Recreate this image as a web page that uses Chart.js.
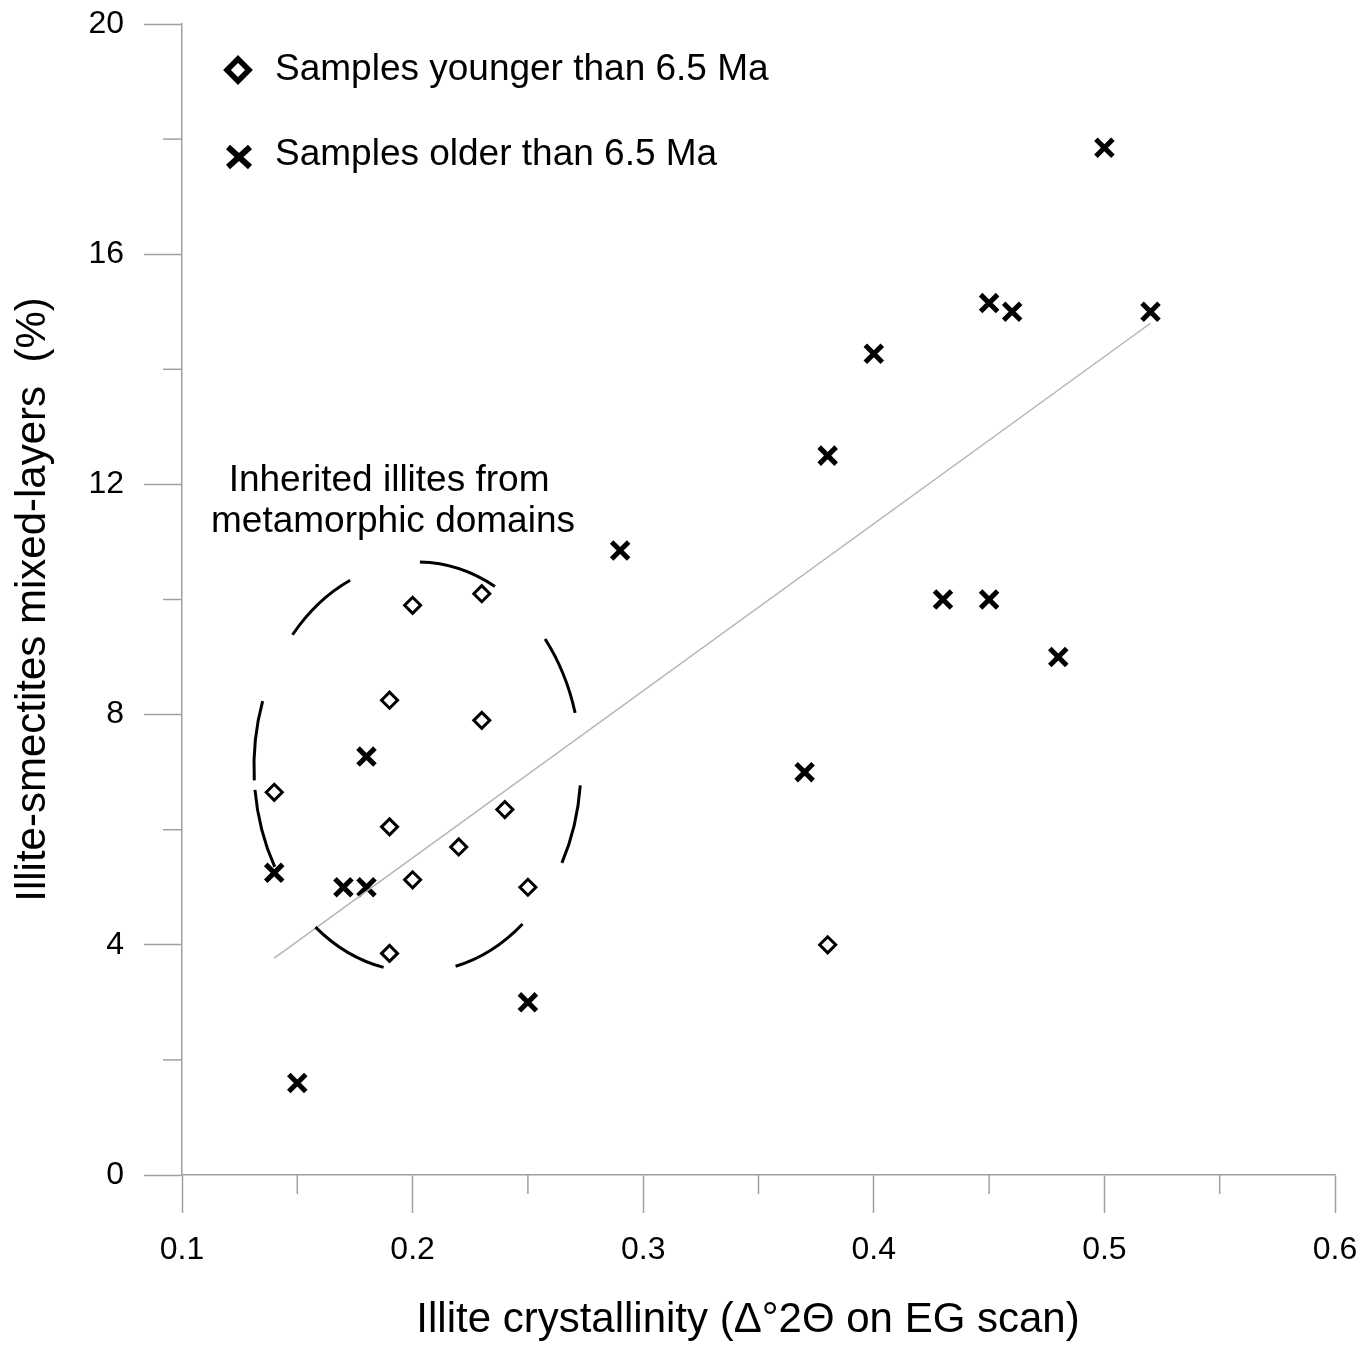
<!DOCTYPE html>
<html>
<head>
<meta charset="utf-8">
<script src="https://cdn.jsdelivr.net/npm/chart.js@4.4.1/dist/chart.umd.min.js"></script>
<style>
    body { margin: 0; background: #fff; }
    canvas { display: block; }
</style>
</head>
<body>
<canvas id="grafico" width="1367" height="1346"></canvas>
<script>
// Amostras mais jovens que 6.5 Ma (losangos)
const xJovens = [0.14, 0.20, 0.23, 0.19, 0.23, 0.24, 0.19, 0.22, 0.20, 0.25, 0.19, 0.38];
const yJovens = [6.65, 9.9, 10.1, 8.25, 7.9, 6.35, 6.05, 5.7, 5.13, 5.0, 3.85, 4.0];

// Amostras mais antigas que 6.5 Ma (cruzes)
const xAntigas = [0.50, 0.45, 0.46, 0.52, 0.40, 0.38, 0.29, 0.43, 0.45, 0.48, 0.37, 0.18, 0.14, 0.17, 0.18, 0.25, 0.15];
const yAntigas = [17.85, 15.15, 15.0, 15.0, 14.27, 12.5, 10.85, 10.0, 10.0, 9.0, 7.0, 7.27, 5.25, 5.0, 5.0, 3.0, 1.6];

// Reta de tendência (extremos)
const xTendencia = [0.14, 0.52];
const yTendencia = [3.77, 14.8];

const legendas = ['Samples younger than 6.5 Ma', 'Samples older than 6.5 Ma'];
const tituloX = 'Illite crystallinity (\u0394\u00b02\u0398 on EG scan)';
const tituloY = 'Illite-smectites mixed-layers  (%)';
const textoElipse = ['Inherited illites from', 'metamorphic domains'];

// Elipse tracejada em unidades dos eixos
const elipse = { cx: 0.2021, cy: 7.09, rx: 0.0709, ry: 3.56 };

const fonte = '"Liberation Sans", Arial, sans-serif';
const corEixo = '#a0a0a0';

const pares = (xs, ys) => xs.map((x, i) => ({ x: x, y: ys[i] }));

const extras = {
    id: 'extras',
    afterDatasetsDraw(chart) {
        const c = chart.ctx;
        const sx = chart.scales.x;
        const sy = chart.scales.y;
        const area = chart.chartArea;

        // marcas menores dos eixos
        c.save();
        c.strokeStyle = corEixo;
        c.lineWidth = 1.5;
        sx.ticks.forEach(t => {
            if (Math.round(t.value * 100) % 10 !== 0) {
                const px = sx.getPixelForValue(t.value);
                c.beginPath();
                c.moveTo(px, area.bottom);
                c.lineTo(px, area.bottom + 19);
                c.stroke();
            }
        });
        sy.ticks.forEach(t => {
            if (Math.round(t.value) % 4 !== 0) {
                const py = sy.getPixelForValue(t.value);
                c.beginPath();
                c.moveTo(area.left, py);
                c.lineTo(area.left - 19, py);
                c.stroke();
            }
        });
        c.restore();

        // elipse tracejada
        const cx = sx.getPixelForValue(elipse.cx);
        const cy = sy.getPixelForValue(elipse.cy);
        const rx = sx.getPixelForValue(elipse.cx + elipse.rx) - cx;
        const ry = cy - sy.getPixelForValue(elipse.cy + elipse.ry);
        c.save();
        c.strokeStyle = '#000';
        c.lineWidth = 3;
        c.setLineDash([80, 73]);
        c.beginPath();
        c.ellipse(cx, cy, rx, ry, 0, 3.03, 3.03 - 2 * Math.PI, true);
        c.stroke();
        c.restore();

        // texto da elipse
        c.save();
        c.fillStyle = '#000';
        c.font = '37px ' + fonte;
        c.textAlign = 'center';
        c.textBaseline = 'middle';
        c.fillText(textoElipse[0], sx.getPixelForValue(0.1898), sy.getPixelForValue(12.07));
        c.fillText(textoElipse[1], sx.getPixelForValue(0.1915), sy.getPixelForValue(11.35));
        c.restore();

        // legenda
        c.save();
        c.strokeStyle = '#000';
        c.fillStyle = '#fff';
        c.lineWidth = 5.5;
        c.lineJoin = 'miter';
        c.beginPath();
        c.moveTo(238, 59); c.lineTo(249, 70); c.lineTo(238, 81); c.lineTo(227, 70);
        c.closePath();
        c.fill();
        c.stroke();
        c.lineWidth = 6;
        c.beginPath();
        c.moveTo(228, 147); c.lineTo(250, 167);
        c.moveTo(250, 147); c.lineTo(228, 167);
        c.stroke();
        c.fillStyle = '#000';
        c.font = '37px ' + fonte;
        c.textBaseline = 'middle';
        c.fillText(legendas[0], 275, 70);
        c.fillText(legendas[1], 275, 155);
        c.restore();
    }
};

const ctx = document.getElementById('grafico').getContext('2d');

const chart = new Chart(ctx, {
    type: 'scatter',
    data: {
        datasets: [
            {
                label: 'Tendência',
                type: 'line',
                data: pares(xTendencia, yTendencia),
                borderColor: '#b4b4b4',
                borderWidth: 1.5,
                pointRadius: 0,
                fill: false
            },
            {
                label: legendas[0],
                data: pares(xJovens, yJovens),
                pointStyle: 'rectRot',
                pointRadius: 8,
                borderWidth: 3,
                borderColor: '#000',
                backgroundColor: '#fff'
            },
            {
                label: legendas[1],
                data: pares(xAntigas, yAntigas),
                pointStyle: 'crossRot',
                pointRadius: 12,
                borderWidth: 5,
                borderColor: '#000',
                backgroundColor: '#000'
            }
        ]
    },
    options: {
        responsive: false,
        animation: false,
        layout: { padding: { top: 24, right: 32, left: 0, bottom: 0 } },
        plugins: {
            legend: { display: false },
            tooltip: { enabled: false }
        },
        scales: {
            x: {
                type: 'linear',
                min: 0.1,
                max: 0.6,
                // altura fixa e sem folga extra para os rótulos das pontas
                afterFit: s => { s.height = 171; s.paddingLeft = 0; s.paddingRight = 0; },
                ticks: {
                    stepSize: 0.05,
                    color: '#000',
                    padding: 18,
                    maxRotation: 0,
                    autoSkip: false,
                    font: { family: fonte, size: 32 },
                    callback: v => (Math.round(v * 100) % 10 === 0 ? v.toFixed(1) : '')
                },
                grid: {
                    drawOnChartArea: false,
                    tickLength: 38,
                    tickWidth: 1.5,
                    tickColor: c => (c.tick && Math.round(c.tick.value * 100) % 10 === 0 ? corEixo : 'rgba(0,0,0,0)')
                },
                border: { color: corEixo, width: 1.5 },
                title: {
                    display: true,
                    text: tituloX + '\u2002',
                    color: '#000',
                    font: { family: fonte, size: 42 },
                    padding: { top: 0, bottom: 0 }
                }
            },
            y: {
                min: 0,
                max: 20,
                afterFit: s => { s.width = 182; s.paddingTop = 0; s.paddingBottom = 0; },
                ticks: {
                    stepSize: 2,
                    color: '#000',
                    padding: 20,
                    autoSkip: false,
                    font: { family: fonte, size: 32 },
                    callback: v => (Math.round(v) % 4 === 0 ? v : '')
                },
                grid: {
                    drawOnChartArea: false,
                    tickLength: 38,
                    tickWidth: 1.5,
                    tickColor: c => (c.tick && Math.round(c.tick.value) % 4 === 0 ? corEixo : 'rgba(0,0,0,0)')
                },
                border: { color: corEixo, width: 1.5 },
                title: {
                    display: true,
                    text: tituloY,
                    color: '#000',
                    font: { family: fonte, size: 42 },
                    padding: { top: 8, bottom: 0 }
                }
            }
        }
    },
    plugins: [extras]
});
</script>
</body>
</html>
